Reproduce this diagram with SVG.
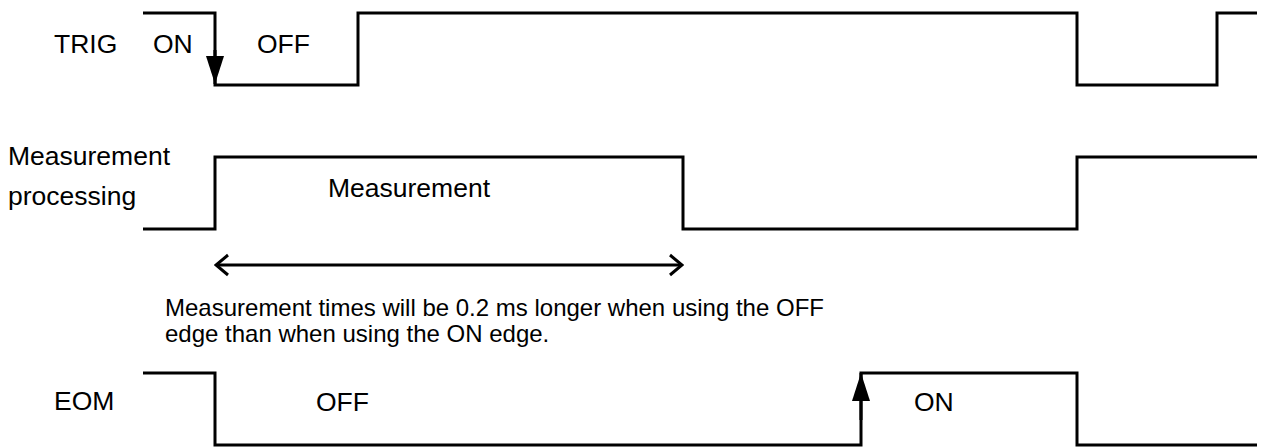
<svg xmlns="http://www.w3.org/2000/svg" width="1261" height="448" viewBox="0 0 1261 448">
<style>
  .wave{fill:none;stroke:#000;stroke-width:3;stroke-linejoin:miter}
  .conn{fill:none;stroke:#000;stroke-width:3}
  .lbl{font-family:"Liberation Sans",Arial,sans-serif;font-size:26.5px;fill:#000}
  .note{font-family:"Liberation Sans",Arial,sans-serif;font-size:24px;fill:#000}
</style>
<defs>
  <marker id="tri" viewBox="0 0 28 18" refX="28" refY="9" markerWidth="28" markerHeight="18" markerUnits="userSpaceOnUse" orient="auto">
    <path d="M0,0 L28,9 L0,18 z" fill="#000"/>
  </marker>
  <marker id="chev" viewBox="0 0 16 24" refX="14" refY="12" markerWidth="16" markerHeight="24" markerUnits="userSpaceOnUse" orient="auto-start-reverse">
    <path d="M2,2 L14,12 L2,22" fill="none" stroke="#000" stroke-width="3"/>
  </marker>
</defs>
<rect width="1261" height="448" fill="#fff"/>
<g id="trig">
  <path class="wave" d="M143,13 H215 V85 H358 V13 H1077 V85 H1217 V13 H1257"/>
  <text class="lbl" x="54" y="53">TRIG</text>
  <text class="lbl" x="153" y="53">ON</text>
  <text class="lbl" x="257" y="53">OFF</text>
</g>
<g id="measurement">
  <path class="wave" d="M143,229 H215 V157 H683 V229 H1077 V157 H1257"/>
  <text class="lbl" x="8" y="165">Measurement</text>
  <text class="lbl" x="8" y="205">processing</text>
  <text class="lbl" x="328" y="197">Measurement</text>
</g>
<g id="note">
  <text class="note" x="165" y="316">Measurement times will be 0.2 ms longer when using the OFF</text>
  <text class="note" x="165" y="342">edge than when using the ON edge.</text>
</g>
<g id="eom">
  <path class="wave" d="M143,373 H215 V445 H861 V373 H1077 V445 H1257"/>
  <text class="lbl" x="54" y="410">EOM</text>
  <text class="lbl" x="316" y="411">OFF</text>
  <text class="lbl" x="914" y="411">ON</text>
</g>
<g id="connectors">
  <path class="conn" d="M215,50 V84" marker-end="url(#tri)"/>
  <path class="conn" d="M861,420 V373" marker-end="url(#tri)"/>
  <path class="conn" d="M216,265 H682" marker-start="url(#chev)" marker-end="url(#chev)"/>
</g>
</svg>
